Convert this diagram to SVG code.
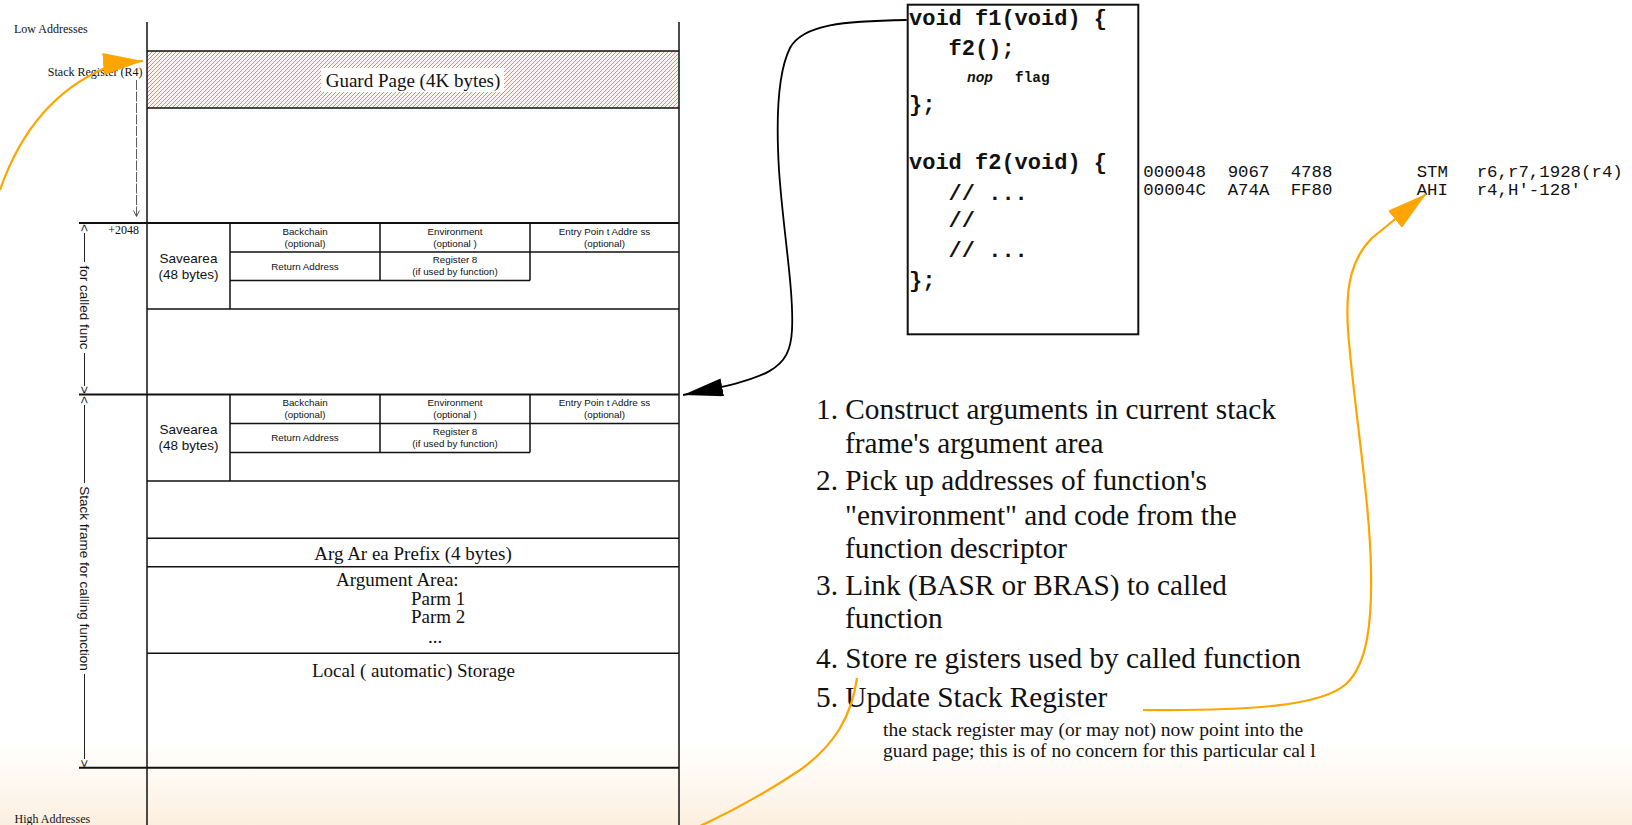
<svg xmlns="http://www.w3.org/2000/svg" width="1632" height="825" viewBox="0 0 1632 825">
<defs>
<style>
.ln{stroke:#111;stroke-width:1.5;fill:none}
.thk{stroke:#111;stroke-width:2;fill:none}
.thin{stroke:#222;stroke-width:1;fill:none}
.serif{font-family:"Liberation Serif","Times New Roman",serif;fill:#111}
.sans{font-family:"Liberation Sans",Arial,sans-serif;fill:#111}
.mono{font-family:"Liberation Mono","Courier New",monospace;fill:#111}
.cell{font-size:9.8px;text-anchor:middle}
.sv{font-size:13.5px;text-anchor:middle}
.big{font-size:19px}
.mid{text-anchor:middle}
.small{font-size:12px}
.vt{font-size:13.5px}
.code{font-size:22px;font-weight:bold}
.asm{font-size:17.4px}
.list{font-size:29.3px}
.note{font-size:19.5px}
.orange{stroke:#FFA500;stroke-width:2.2;fill:none}
</style>
<pattern id="hatch" patternUnits="userSpaceOnUse" width="4" height="4">
<rect width="4" height="4" fill="#fff4f4"/>
<path d="M-1,1 L1,-1 M0,4 L4,0 M3,5 L5,3" stroke="#e05a5a" stroke-width="0.7"/>
</pattern>
<linearGradient id="bg" x1="0" y1="0" x2="0" y2="1">
<stop offset="0" stop-color="#fdf3e6" stop-opacity="0"/>
<stop offset="1" stop-color="#fcefdf"/>
</linearGradient>
<marker id="blk" markerUnits="userSpaceOnUse" viewBox="0 0 40 18" refX="40" refY="9" markerWidth="40" markerHeight="18" orient="auto">
<path d="M0,0 L40,9 L0,18 z" fill="#000"/>
</marker>
<marker id="org" markerUnits="userSpaceOnUse" viewBox="0 0 40 22" refX="40" refY="11" markerWidth="40" markerHeight="22" orient="auto">
<path d="M0,0 L40,11 L0,22 z" fill="#FFA500"/>
</marker>
</defs>

<rect x="0" y="0" width="1632" height="825" fill="#fff"/>
<rect x="0" y="740" width="1632" height="85" fill="url(#bg)"/>

<g id="stack">
  <g id="guard-page">
    <rect x="147" y="51" width="532" height="57" fill="url(#hatch)"/>
    <line class="ln" x1="147" y1="51" x2="679" y2="51"/>
    <line class="ln" x1="147" y1="108" x2="679" y2="108"/>
    <rect x="321" y="68" width="183" height="24" fill="#fff"/>
    <text class="serif big mid" x="413" y="87">Guard Page (4K bytes)</text>
  </g>
  <g id="stack-lines">
    <line class="ln" x1="147" y1="22" x2="147" y2="825"/>
    <line class="ln" x1="679" y1="22" x2="679" y2="825"/>
    <line class="thk" x1="79" y1="223" x2="679" y2="223"/>
    <line class="thk" x1="79" y1="394.5" x2="679" y2="394.5"/>
    <line class="thk" x1="79" y1="767.7" x2="679" y2="767.7"/>
    <line class="ln" x1="147" y1="309" x2="679" y2="309"/>
    <line class="ln" x1="147" y1="481" x2="679" y2="481"/>
    <line class="ln" x1="147" y1="538.3" x2="679" y2="538.3"/>
    <line class="ln" x1="147" y1="566.7" x2="679" y2="566.7"/>
    <line class="ln" x1="147" y1="653.3" x2="679" y2="653.3"/>
  </g>
  <g id="savearea-callee">
    <line class="ln" x1="230" y1="223" x2="230" y2="309"/>
    <line class="ln" x1="380" y1="223" x2="380" y2="280.5"/>
    <line class="ln" x1="530" y1="223" x2="530" y2="280.5"/>
    <line class="ln" x1="230" y1="252" x2="679" y2="252"/>
    <line class="ln" x1="230" y1="280.5" x2="530" y2="280.5"/>
    <text class="sans cell" x="305" y="234.5">Backchain</text>
    <text class="sans cell" x="305" y="246.7">(optional)</text>
    <text class="sans cell" x="455" y="234.5">Environment</text>
    <text class="sans cell" x="455" y="246.7">(optional )</text>
    <text class="sans cell" x="604.5" y="234.5">Entry Poin t Addre ss</text>
    <text class="sans cell" x="604.5" y="246.7">(optional)</text>
    <text class="sans sv" x="188.5" y="262.5">Savearea</text>
    <text class="sans sv" x="188.5" y="278.5">(48 bytes)</text>
    <text class="sans cell" x="305" y="269.7">Return Address</text>
    <text class="sans cell" x="455" y="263">Register 8</text>
    <text class="sans cell" x="455" y="275.4">(if used by function)</text>
  </g>
  <g id="savearea-caller">
    <line class="ln" x1="230" y1="394.5" x2="230" y2="481"/>
    <line class="ln" x1="380" y1="394.5" x2="380" y2="452.5"/>
    <line class="ln" x1="530" y1="394.5" x2="530" y2="452.5"/>
    <line class="ln" x1="230" y1="423.5" x2="679" y2="423.5"/>
    <line class="ln" x1="230" y1="452.5" x2="530" y2="452.5"/>
    <text class="sans cell" x="305" y="406">Backchain</text>
    <text class="sans cell" x="305" y="418.2">(optional)</text>
    <text class="sans cell" x="455" y="406">Environment</text>
    <text class="sans cell" x="455" y="418.2">(optional )</text>
    <text class="sans cell" x="604.5" y="406">Entry Poin t Addre ss</text>
    <text class="sans cell" x="604.5" y="418.2">(optional)</text>
    <text class="sans sv" x="188.5" y="434">Savearea</text>
    <text class="sans sv" x="188.5" y="450">(48 bytes)</text>
    <text class="sans cell" x="305" y="441.2">Return Address</text>
    <text class="sans cell" x="455" y="434.5">Register 8</text>
    <text class="sans cell" x="455" y="446.9">(if used by function)</text>
  </g>
  <g id="arg-area">
    <text class="serif big mid" x="413" y="560">Arg Ar ea Prefix (4 bytes)</text>
    <text class="serif big" x="336" y="585.7">Argument Area:</text>
    <text class="serif big" x="411" y="605">Parm 1</text>
    <text class="serif big" x="411" y="623.3">Parm 2</text>
    <text class="serif big mid" x="435" y="643">...</text>
  </g>
  <g id="local-storage">
    <text class="serif big mid" x="413.5" y="676.7">Local ( automatic) Storage</text>
  </g>
  <g id="labels">
    <text class="serif small" x="14" y="32.5">Low Addresses</text>
    <text class="serif small" x="142.5" y="75.8" text-anchor="end">Stack Register (R4)</text>
    <text class="serif small" x="139" y="234" text-anchor="end">+2048</text>
    <text class="serif small" x="14.5" y="823">High Addresses</text>
    <line x1="136.5" y1="80" x2="136.5" y2="216" stroke="#333" stroke-width="0.8" stroke-dasharray="10,1.5"/>
    <polyline points="133.5,210.5 136.5,216.5 139.5,210.5" fill="none" stroke="#333" stroke-width="0.8"/>
  </g>
  <g id="bracket-callee">
    <text class="sans vt" transform="translate(80,224) rotate(90)">&lt;</text>
    <line class="thin" x1="84.5" y1="233" x2="84.5" y2="262"/>
    <text class="sans vt mid" transform="translate(80,307.5) rotate(90)">for called func</text>
    <line class="thin" x1="84.5" y1="353" x2="84.5" y2="386"/>
    <text class="sans vt" transform="translate(80,386) rotate(90)">&gt;</text>
  </g>
  <g id="bracket-caller">
    <text class="sans vt" transform="translate(80,396) rotate(90)">&lt;</text>
    <line class="thin" x1="84.5" y1="405" x2="84.5" y2="483"/>
    <text class="sans vt mid" transform="translate(80,578.5) rotate(90)">Stack frame for calling function</text>
    <line class="thin" x1="84.5" y1="674" x2="84.5" y2="759"/>
    <text class="sans vt" transform="translate(80,759.5) rotate(90)">&gt;</text>
  </g>
</g>

<g id="code-box">
  <rect x="907.7" y="4.7" width="230.6" height="329.6" fill="#fff" stroke="#111" stroke-width="2"/>
  <text class="mono code" x="909" y="25">void f1(void) {</text>
  <text class="mono code" x="948.6" y="55">f2();</text>
  <text class="mono" font-size="14.4" font-weight="bold" y="82"><tspan x="967" font-style="italic">nop</tspan><tspan x="1015">flag</tspan></text>
  <text class="mono code" x="909" y="111">};</text>
  <text class="mono code" x="909" y="168.5">void f2(void) {</text>
  <text class="mono code" x="948.6" y="200">// ...</text>
  <text class="mono code" x="948.6" y="227">//</text>
  <text class="mono code" x="948.6" y="257">// ...</text>
  <text class="mono code" x="909" y="286.5">};</text>
</g>

<g id="assembly">
  <text class="mono asm" y="176.7"><tspan x="1143.3">000048</tspan><tspan x="1227.7">9067</tspan><tspan x="1290.7">4788</tspan><tspan x="1416.7">STM</tspan><tspan x="1476.7">r6,r7,1928(r4)</tspan></text>
  <text class="mono asm" y="195"><tspan x="1143.3">00004C</tspan><tspan x="1227.7">A74A</tspan><tspan x="1290.7">FF80</tspan><tspan x="1416.7">AHI</tspan><tspan x="1476.7">r4,H'-128'</tspan></text>
</g>

<g id="steps">
  <text class="serif list" x="816" y="419">1. Construct arguments in current stack</text>
  <text class="serif list" x="845" y="452.5">frame's argument area</text>
  <text class="serif list" x="816" y="490">2. Pick up addresses of function's</text>
  <text class="serif list" x="845" y="525">"environment" and code from the</text>
  <text class="serif list" x="845" y="558">function descriptor</text>
  <text class="serif list" x="816" y="595">3. Link (BASR or BRAS) to called</text>
  <text class="serif list" x="845" y="628">function</text>
  <text class="serif list" x="816" y="668">4. Store re gisters used by called function</text>
  <text class="serif list" x="816" y="706.5">5. Update Stack Register</text>
  <text class="serif note" x="883" y="735.5">the stack register may (or may not) now point into the</text>
  <text class="serif note" x="883" y="756.5">guard page; this is of no concern for this particular cal l</text>
</g>

<g id="connectors">
  <path d="M906.7,20 C845,21 803,24 790,48 C778,72 776,120 779,170 C783,230 794,290 792,330 C790,370 770,378 683,395" fill="none" stroke="#000" stroke-width="1.8" marker-end="url(#blk)"/>
  <path class="orange" d="M0,190 C18,138 50,92 105,68 C118,63 130,62 143,61" marker-end="url(#org)"/>
  <path class="orange" d="M1143,710 C1250,711 1322,706 1346,684 C1368,664 1372,620 1371,570 C1370,500 1353,400 1348,330 C1345,285 1352,258 1372,238 L1426,194" marker-end="url(#org)"/>
  <path class="orange" d="M857,678 C852,715 835,745 800,770 C770,790 735,810 700,826"/>
</g>
</svg>
